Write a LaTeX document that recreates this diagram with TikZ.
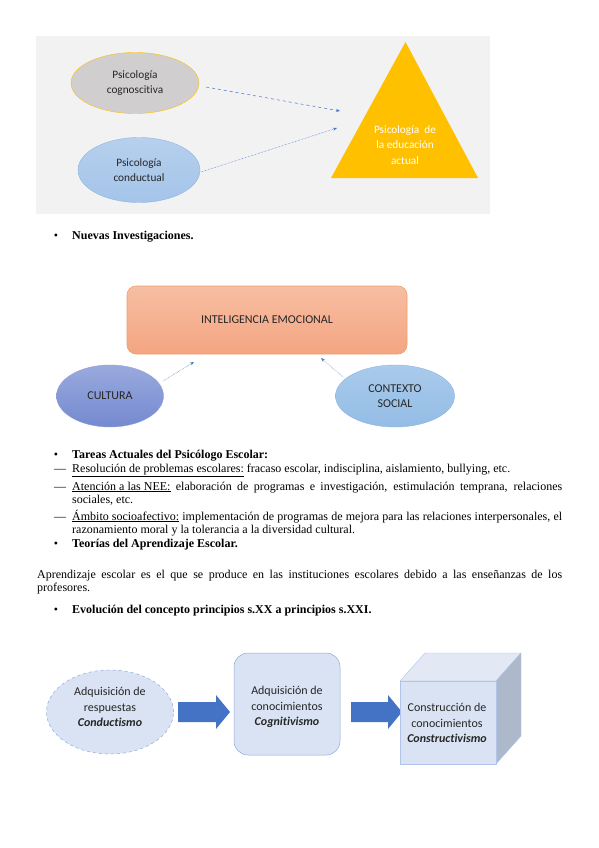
\documentclass[tikz,border=0pt]{standalone}
\usepackage{fontspec}
\setmainfont{Liberation Serif}
\newfontfamily\calib[Ligatures=NoCommon]{Carlito}
\usetikzlibrary{arrows.meta,shapes.geometric}
\definecolor{bggray}{HTML}{F2F2F2}
\definecolor{elgray}{HTML}{D0CECE}
\definecolor{ambar}{HTML}{FFC000}
\definecolor{azul}{HTML}{4472C4}
\definecolor{azulc}{HTML}{A4C4E9}
\definecolor{azulb}{HTML}{8FB4E3}
\definecolor{salmonA}{HTML}{F7BEA3}
\definecolor{salmonB}{HTML}{F4A581}
\definecolor{naranja}{HTML}{F0A070}
\definecolor{cultA}{HTML}{9AAADE}
\definecolor{cultB}{HTML}{7489CF}
\definecolor{ctxA}{HTML}{A9CBEC}
\definecolor{ctxB}{HTML}{94BCE5}
\definecolor{palido}{HTML}{DAE3F3}
\definecolor{palidob}{HTML}{8FAADC}
\definecolor{lado}{HTML}{ADB9CA}
\definecolor{techo}{HTML}{E2E8F4}
\definecolor{txt}{HTML}{262626}
\begin{document}
\begin{tikzpicture}[x=1pt,y=-1pt,
  dtext/.style={font=\calib\fontsize{12}{15.5}\selectfont, text=txt, align=center},
  dtexts/.style={font=\calib\fontsize{11.3}{15.5}\selectfont, text=txt, align=center},
  body/.style={font=\fontsize{12}{13}\selectfont, anchor=base west, inner sep=0pt},
  bul/.style={font=\fontsize{12}{13}\selectfont, anchor=base, inner sep=0pt},
  thinarrow/.style={draw=azul, line width=0.5pt, -{Stealth[length=4pt,width=3pt]}},
]
\useasboundingbox[fill=white] (0,0) rectangle (599,848);

% ---------- Diagram 1 ----------
\fill[bggray] (36,36) rectangle (490,214);
\node[ellipse, draw=ambar, line width=0.4pt, fill=elgray, minimum width=128pt, minimum height=61pt, dtexts] (cog) at (135,83) {Psicología\\cognoscitiva};
\node[ellipse, draw=azulb, line width=0.4pt, top color=azulc!80!white, bottom color=azulc, minimum width=122pt, minimum height=65pt, dtexts] (cond) at (139,170) {Psicología\\conductual};
\fill[ambar] (405.5,42) -- (478,178) -- (331,178) -- cycle;
\node[dtexts, text=white] (tri) at (405,145) {Psicología~ de\\la educación\\actual};
\coordinate (a1s) at (206,87);
\coordinate (a1e) at (340,111);
\coordinate (a2s) at (201,172);
\coordinate (a2e) at (337,128);
\draw[thinarrow, dashed] (a1s) -- (a1e);
\draw[thinarrow, densely dotted] (a2s) -- (a2e);

\node[bul] (b1) at (56,239) {\textbullet};
\node[body] (t1) at (72,239) {\bfseries Nuevas Investigaciones.};

% ---------- Diagram 2 ----------
\node[draw=naranja, line width=0.6pt, rounded corners=9pt, top color=salmonA, bottom color=salmonB, minimum width=280pt, minimum height=68pt, dtext] (ie) at (267,320) {INTELIGENCIA EMOCIONAL};
\node[ellipse, draw=cultB!80!white, line width=0.4pt, top color=cultA, bottom color=cultB, minimum width=107pt, minimum height=62pt, dtext] (cul) at (110,396) {CULTURA};
\node[ellipse, draw=azulb, line width=0.4pt, top color=ctxA, bottom color=ctxB, minimum width=119pt, minimum height=62pt, dtext] (ctx) at (395,396) {CONTEXTO\\SOCIAL};
\coordinate (c1s) at (163,381);
\coordinate (c1e) at (194,362);
\coordinate (c2s) at (343,377);
\coordinate (c2e) at (321,358);
\draw[thinarrow, densely dotted] (c1s) -- (c1e);
\draw[thinarrow, densely dotted] (c2s) -- (c2e);

% ---------- Text block ----------
\node[bul] (b2) at (56,458) {\textbullet};
\node[body] (t2) at (72,458) {\bfseries Tareas Actuales del Psicólogo Escolar:};
\node[body] (d1) at (54,472) {—};
\node[body] (t3) at (72,472) {\underline{Resolución de problemas escolares:} fracaso escolar, indisciplina, aislamiento, bullying, etc.};
\node[body] (d2) at (54,490) {—};
\node[body] (t4) at (72,490) {\makebox[490pt][s]{\underline{Atención a las NEE:} elaboración de programas e investigación, estimulación temprana, relaciones}};
\node[body] (t5) at (72,503) {sociales, etc.};
\node[body] (d3) at (54,520) {—};
\node[body] (t6) at (72,520) {\makebox[490pt][s]{\underline{Ámbito socioafectivo:} implementación de programas de mejora para las relaciones interpersonales, el}};
\node[body] (t7) at (72,533) {razonamiento moral y la tolerancia a la diversidad cultural.};
\node[bul] (b3) at (56,547) {\textbullet};
\node[body] (t8) at (72,547) {\bfseries Teorías del Aprendizaje Escolar.};
\node[body] (t9) at (37,578) {\makebox[525pt][s]{Aprendizaje escolar es el que se produce en las instituciones escolares debido a las enseñanzas de los}};
\node[body] (t10) at (37,591) {profesores.};
\node[bul] (b4) at (56,613) {\textbullet};
\node[body] (t11) at (72,613) {\bfseries Evolución del concepto principios s.XX a principios s.XXI.};

% ---------- Diagram 3 ----------
\node[ellipse, draw=palidob, dashed, line width=0.5pt, fill=palido, minimum width=127pt, minimum height=84pt] (e3) at (110,712) {};
\node[dtext] (e3t) at (110,707) {Adquisición de\\respuestas\\\textbf{\textit{Conductismo}}};
\node[draw=palidob, line width=0.5pt, fill=palido, rounded corners=14pt, minimum width=106pt, minimum height=102pt] (r3) at (287,704) {};
\node[dtext] (r3t) at (287,707) {Adquisición de\\conocimientos\\\textbf{\textit{Cognitivismo}}};
% block arrows
\fill[azul] (178,702) -- (216,702) -- (216,695) -- (230,712) -- (216,729) -- (216,722) -- (178,722) -- cycle;
\fill[azul] (351,702) -- (388,702) -- (388,695) -- (402,712) -- (388,729) -- (388,722) -- (351,722) -- cycle;
% cube
\filldraw[fill=techo, draw=palidob!70!white, line width=0.4pt] (400,681) -- (425,653) -- (521,653) -- (496,681) -- cycle;
\filldraw[fill=lado, draw=palidob!70!white, line width=0.4pt] (496,681) -- (521,653) -- (521,736) -- (496,764) -- cycle;
\node[draw=palidob!70!white, line width=0.4pt, fill=palido, minimum width=96pt, minimum height=83pt, inner sep=0pt] (cube) at (448,722.5) {};
\node[dtext] (cubet) at (447,723) {Construcción de\\conocimientos\\\textbf{\textit{Constructivismo}}};
\end{tikzpicture}
\end{document}
